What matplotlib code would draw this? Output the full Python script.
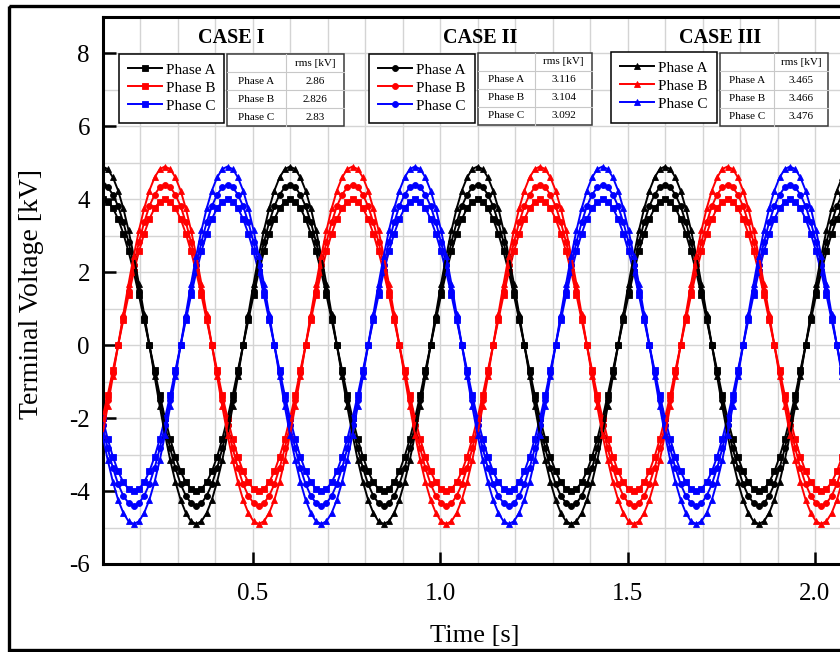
import numpy as np
import matplotlib
matplotlib.use("Agg")
import matplotlib.pyplot as plt
from matplotlib.patches import Rectangle
from matplotlib.legend import Legend

W, H = 840, 652

# ---------------- data (one period of samples) ----------
t_start = 0.1          # s, first sample
t_step = 1 / 72        # s, sample spacing (36 samples per 0.5 s period)
n_periods = 4          # periods shown

caseI_A = [4.00, 3.94, 3.76, 3.46, 3.06, 2.57, 2.00, 1.37, 0.69, 0.00, -0.69, -1.37,
           -2.00, -2.57, -3.06, -3.46, -3.76, -3.94, -4.00, -3.94, -3.76, -3.46, -3.06, -2.57,
           -2.00, -1.37, -0.69, 0.00, 0.69, 1.37, 2.00, 2.57, 3.06, 3.46, 3.76, 3.94]
caseI_B = [-2.00, -1.37, -0.69, 0.00, 0.69, 1.37, 2.00, 2.57, 3.06, 3.46, 3.76, 3.94,
           4.00, 3.94, 3.76, 3.46, 3.06, 2.57, 2.00, 1.37, 0.69, 0.00, -0.69, -1.37,
           -2.00, -2.57, -3.06, -3.46, -3.76, -3.94, -4.00, -3.94, -3.76, -3.46, -3.06, -2.57]
caseI_C = [-2.00, -2.57, -3.06, -3.46, -3.76, -3.94, -4.00, -3.94, -3.76, -3.46, -3.06, -2.57,
           -2.00, -1.37, -0.69, 0.00, 0.69, 1.37, 2.00, 2.57, 3.06, 3.46, 3.76, 3.94,
           4.00, 3.94, 3.76, 3.46, 3.06, 2.57, 2.00, 1.37, 0.69, 0.00, -0.69, -1.37]

caseII_A = [4.40, 4.33, 4.13, 3.81, 3.37, 2.83, 2.20, 1.50, 0.76, 0.00, -0.76, -1.50,
            -2.20, -2.83, -3.37, -3.81, -4.13, -4.33, -4.40, -4.33, -4.13, -3.81, -3.37, -2.83,
            -2.20, -1.50, -0.76, 0.00, 0.76, 1.50, 2.20, 2.83, 3.37, 3.81, 4.13, 4.33]
caseII_B = [-2.20, -1.50, -0.76, 0.00, 0.76, 1.50, 2.20, 2.83, 3.37, 3.81, 4.13, 4.33,
            4.40, 4.33, 4.13, 3.81, 3.37, 2.83, 2.20, 1.50, 0.76, 0.00, -0.76, -1.50,
            -2.20, -2.83, -3.37, -3.81, -4.13, -4.33, -4.40, -4.33, -4.13, -3.81, -3.37, -2.83]
caseII_C = [-2.20, -2.83, -3.37, -3.81, -4.13, -4.33, -4.40, -4.33, -4.13, -3.81, -3.37, -2.83,
            -2.20, -1.50, -0.76, 0.00, 0.76, 1.50, 2.20, 2.83, 3.37, 3.81, 4.13, 4.33,
            4.40, 4.33, 4.13, 3.81, 3.37, 2.83, 2.20, 1.50, 0.76, 0.00, -0.76, -1.50]

caseIII_A = [4.90, 4.83, 4.60, 4.24, 3.75, 3.15, 2.45, 1.68, 0.85, 0.00, -0.85, -1.68,
             -2.45, -3.15, -3.75, -4.24, -4.60, -4.83, -4.90, -4.83, -4.60, -4.24, -3.75, -3.15,
             -2.45, -1.68, -0.85, 0.00, 0.85, 1.68, 2.45, 3.15, 3.75, 4.24, 4.60, 4.83]
caseIII_B = [-2.45, -1.68, -0.85, 0.00, 0.85, 1.68, 2.45, 3.15, 3.75, 4.24, 4.60, 4.83,
             4.90, 4.83, 4.60, 4.24, 3.75, 3.15, 2.45, 1.68, 0.85, 0.00, -0.85, -1.68,
             -2.45, -3.15, -3.75, -4.24, -4.60, -4.83, -4.90, -4.83, -4.60, -4.24, -3.75, -3.15]
caseIII_C = [-2.45, -3.15, -3.75, -4.24, -4.60, -4.83, -4.90, -4.83, -4.60, -4.24, -3.75, -3.15,
             -2.45, -1.68, -0.85, 0.00, 0.85, 1.68, 2.45, 3.15, 3.75, 4.24, 4.60, 4.83,
             4.90, 4.83, 4.60, 4.24, 3.75, 3.15, 2.45, 1.68, 0.85, 0.00, -0.85, -1.68]

case_titles = ["CASE I", "CASE II", "CASE III"]
phase_labels = ["Phase A", "Phase B", "Phase C"]
rms_header = "rms [kV]"
caseI_rms = ["2.86", "2.826", "2.83"]
caseII_rms = ["3.116", "3.104", "3.092"]
caseIII_rms = ["3.465", "3.466", "3.476"]

x_ticks = [0.5, 1.0, 1.5, 2.0]
x_tick_labels = ["0.5", "1.0", "1.5", "2.0"]
y_ticks = [-6, -4, -2, 0, 2, 4, 6, 8]
y_tick_labels = ["-6", "-4", "-2", "0", "2", "4", "6", "8"]
x_label = "Time [s]"
y_label = "Terminal Voltage [kV]"

# ---------------- style ----------------
phase_colors = ["#000000", "#ff0000", "#0000ff"]
case_markers = ["s", "o", "^"]
case_msize = [4.0, 4.3, 5.0]
serif = ["Liberation Serif", "DejaVu Serif"]
plt.rcParams["font.family"] = serif

fig = plt.figure(figsize=(W / 100, H / 100), dpi=100)

# axes geometry in pixels (axis extends past the right edge, as in the cropped original)
ax_l, ax_r, ax_t, ax_b = 102.5, 852.5, 17.0, 564.0
ax = fig.add_axes([ax_l / W, 1 - ax_b / H, (ax_r - ax_l) / W, (ax_b - ax_t) / H])

cases = [
    [caseI_A, caseI_B, caseI_C],
    [caseII_A, caseII_B, caseII_C],
    [caseIII_A, caseIII_B, caseIII_C],
]

handles = []
for ci, series in enumerate(cases):
    hs = []
    for pi, one_period in enumerate(series):
        vals = np.tile(np.array(one_period), n_periods)
        t = t_start + t_step * np.arange(len(vals))
        ln, = ax.plot(t, vals, color=phase_colors[pi], lw=1.4,
                      marker=case_markers[ci], ms=case_msize[ci],
                      markeredgewidth=0.6, clip_on=True, zorder=3)
        hs.append(ln)
    handles.append(hs)

ax.set_xlim(0.1, 2.1)
ax.set_ylim(-6, 9)
ax.set_xticks(x_ticks)
ax.set_xticklabels(x_tick_labels)
ax.set_yticks(y_ticks)
ax.set_yticklabels(y_tick_labels)
ax.set_xticks(np.round(np.arange(0.1, 2.11, 0.1), 2), minor=True)
ax.set_yticks(np.arange(-6, 10, 1), minor=True)
ax.grid(True, which="both", color="#d4d4d4", lw=1.0, zorder=0)
ax.set_axisbelow(True)
ax.tick_params(which="major", direction="in", length=9, width=1.8,
               labelsize=18, colors="black")
ax.tick_params(axis="y", which="major", pad=9)
ax.tick_params(axis="x", which="major", pad=14)
ax.tick_params(which="minor", length=0)
for s in ["left", "bottom", "top"]:
    ax.spines[s].set_linewidth(2.2)
ax.spines["right"].set_visible(False)

ax.set_xlabel(x_label, fontsize=19, va="center")
ax.set_ylabel(y_label, fontsize=20, va="center")
ax.xaxis.set_label_coords((475 - ax_l) / (ax_r - ax_l), (ax_b - 636) / (ax_b - ax_t))
ax.yaxis.set_label_coords((32 - ax_l) / (ax_r - ax_l), (ax_b - 294) / (ax_b - ax_t))

# ---------------- overlay in pixel coordinates ----------------
ov = fig.add_axes([0, 0, 1, 1], zorder=10)
ov.set_xlim(0, W)
ov.set_ylim(H, 0)
ov.axis("off")
ov.patch.set_alpha(0)

# outer frame
ov.add_patch(Rectangle((9, 6), 860, 644, fill=False, ec="black", lw=2.4, clip_on=False))

legend_boxes = [(119, 54, 224, 123), (369, 54, 475, 123), (611, 52, 717, 123)]
table_boxes = [(227, 54, 286, 344, 126), (478, 53, 535, 592, 125), (720, 53, 774, 828, 126)]
title_pos = [(231, 38), (480, 38), (720, 38)]
rms_sets = [caseI_rms, caseII_rms, caseIII_rms]

for ci in range(3):
    # title
    tx, ty = title_pos[ci]
    ov.text(tx, ty, case_titles[ci], ha="center", va="center", fontsize=14.5,
            fontweight="bold", color="black")
    # legend box + entries (legend built from the plotted line handles)
    x0, y0, x1, y1 = legend_boxes[ci]
    ov.add_patch(Rectangle((x0, y0), x1 - x0, y1 - y0, fc="white", ec="black", lw=1.1))
    leg = Legend(ov, handles[ci], phase_labels, loc="upper left",
                 bbox_to_anchor=((x0 + 9) / W, 1 - (y0 + 9) / H),
                 bbox_transform=fig.transFigure, frameon=False, fontsize=11,
                 handlelength=2.2, handletextpad=0.3, labelspacing=0.28,
                 borderpad=0.0, borderaxespad=0.0, markerscale=1.0)
    leg.set_zorder(5)
    ov.add_artist(leg)
    # rms table
    x0, y0, xc, x1, y1 = table_boxes[ci]
    rh = (y1 - y0) / 4.0
    ov.add_patch(Rectangle((x0, y0), x1 - x0, y1 - y0, fc="white", ec="#3a3a3a", lw=1.1, zorder=2))
    for r in range(1, 4):
        ov.plot([x0, x1], [y0 + r * rh, y0 + r * rh], color="#c8c8c8", lw=0.8, zorder=3)
    ov.plot([xc, xc], [y0, y1], color="#c8c8c8", lw=0.8, zorder=3)
    ov.text((xc + x1) / 2, y0 + rh / 2, rms_header, ha="center", va="center",
            fontsize=8, zorder=4)
    for r in range(3):
        yy = y0 + (r + 1.5) * rh
        ov.text((x0 + xc) / 2, yy, phase_labels[r], ha="center", va="center",
                fontsize=8, zorder=4)
        ov.text((xc + x1) / 2, yy, rms_sets[ci][r], ha="center", va="center",
                fontsize=8, zorder=4)

fig.savefig("out.png", dpi=100)
